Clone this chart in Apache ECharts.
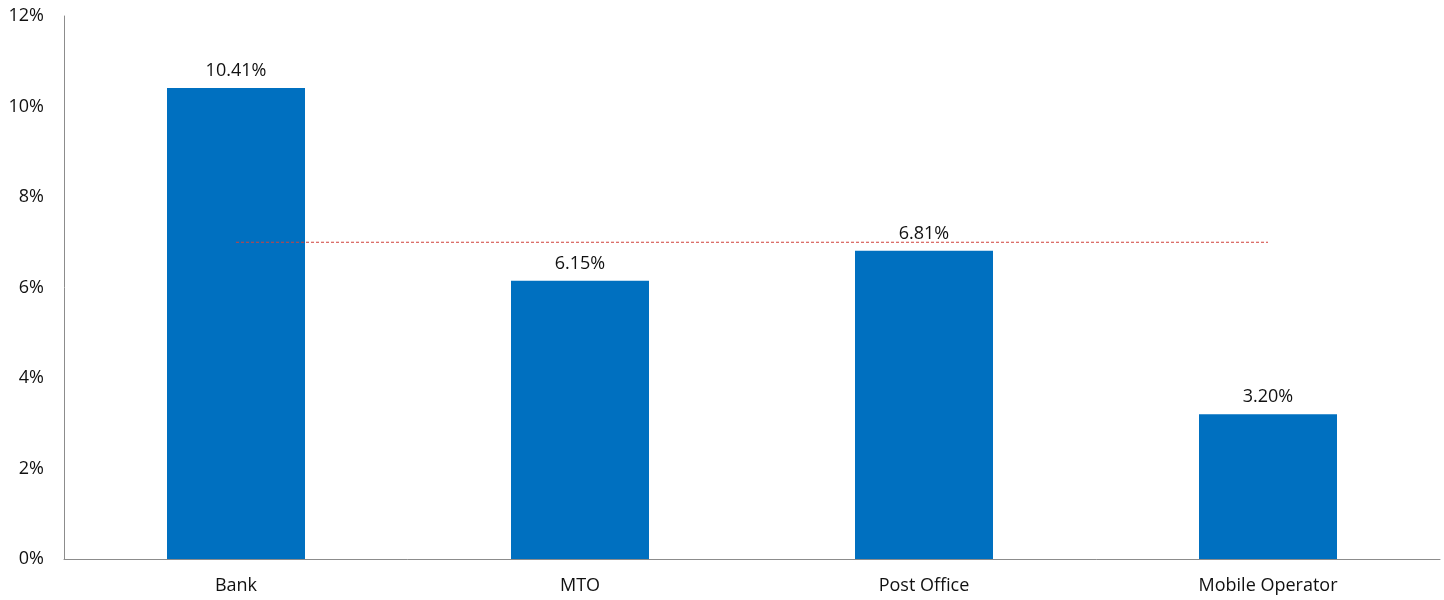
<!DOCTYPE html>
<html><head><meta charset="utf-8">
<script src="https://cdn.jsdelivr.net/npm/echarts@6/dist/echarts.min.js"></script>
<style>html,body{margin:0;padding:0;background:#fff}#c{width:1444px;height:600px}</style>
</head><body><div id="c"></div>
<script>
const categories = ["Bank", "MTO", "Post Office", "Mobile Operator"];
const shares = [10.41, 6.15, 6.81, 3.20];
const average = [7, 7, 7, 7];
const yTicks = [0, 2, 4, 6, 8, 10, 12];

const font = "'Open Sans', 'Noto Sans', sans-serif";
const chart = echarts.init(document.getElementById('c'));
chart.setOption({
  animation: false,
  grid: {left: 64, right: 4, top: 16, bottom: 41},
  xAxis: {
    type: 'category', data: categories,
    axisLine: {lineStyle: {color: '#8c8c8c', width: 1}},
    axisTick: {show: false},
    axisLabel: {color: '#111', fontFamily: font, fontSize: 18, margin: 18}
  },
  yAxis: {
    type: 'value', min: yTicks[0], max: yTicks[yTicks.length - 1], interval: 2,
    axisLine: {show: true, lineStyle: {color: '#8c8c8c', width: 1}},
    axisTick: {show: false},
    splitLine: {show: false},
    axisLabel: {color: '#111', fontFamily: font, fontSize: 18, margin: 20, formatter: v => v + '%'}
  },
  series: [
    {
      type: 'bar', data: shares, barWidth: 138,
      itemStyle: {color: '#0070c0'},
      label: {show: true, position: 'top', distance: 8, color: '#111', fontFamily: font, fontSize: 18,
        formatter: p => p.value.toFixed(2) + '%'}
    },
    {
      type: 'line', data: average, symbol: 'none', z: 5,
      lineStyle: {color: '#d0403a', width: 1, type: [3, 2]}
    }
  ]
});
</script></body></html>
